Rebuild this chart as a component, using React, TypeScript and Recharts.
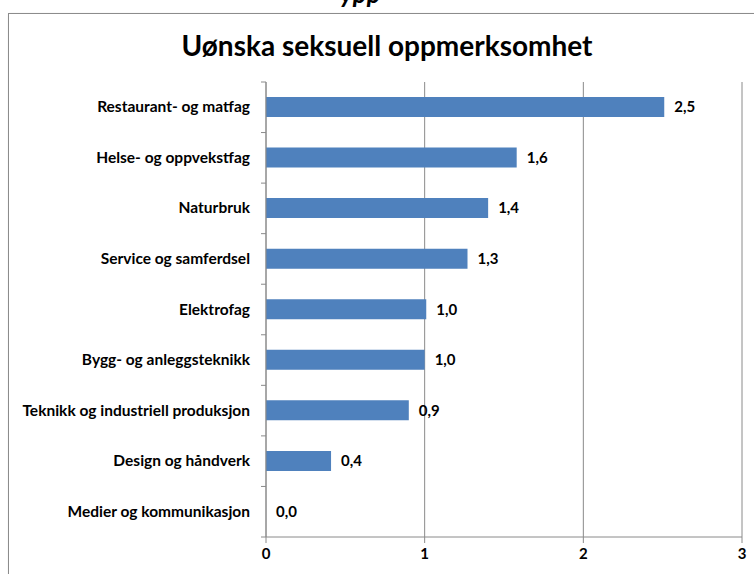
import React from "react";
import { BarChart, Bar, XAxis, YAxis, CartesianGrid, LabelList } from "recharts";

const categories = [
  "Restaurant- og matfag",
  "Helse- og oppvekstfag",
  "Naturbruk",
  "Service og samferdsel",
  "Elektrofag",
  "Bygg- og anleggsteknikk",
  "Teknikk og industriell produksjon",
  "Design og håndverk",
  "Medier og kommunikasjon",
];
const values = [2.51, 1.58, 1.4, 1.27, 1.01, 1.0, 0.9, 0.41, 0.0];
const xTicks = [0, 1, 2, 3];

const data = categories.map((name, i) => ({ name, value: values[i] }));

const FONT = "Lato, 'Open Sans', sans-serif";
const AXIS = "#8a8a8a";
const W = 754;
const H = 574;
const TOP = 82;
const BOTTOM = 537;
const band = (BOTTOM - TOP) / categories.length;

const fmt = (v: any) => Number(v).toFixed(1).replace(".", ",");

function CatTick(props: any) {
  const { x, y, payload, index } = props;
  return (
    <g>
      <line x1={x + 8} x2={x + 3} y1={y - band / 2} y2={y - band / 2} stroke={AXIS} />
      {index === categories.length - 1 && (
        <line x1={x + 8} x2={x + 3} y1={y + band / 2} y2={y + band / 2} stroke={AXIS} />
      )}
      <text x={x - 8} y={y} dy={5} textAnchor="end" fontFamily={FONT} fontWeight={700} fontSize={15.5} fill="#000">
        {payload.value}
      </text>
    </g>
  );
}

export default function App() {
  return (
    <div style={{ position: "absolute", left: 0, top: 0, width: W, height: H, overflow: "hidden", background: "#fff" }}>
      <div
        style={{
          position: "absolute",
          left: 340,
          top: -22,
          fontFamily: FONT,
          fontWeight: 700,
          fontStyle: "italic",
          fontSize: 26,
          lineHeight: "30px",
          color: "#000",
        }}
      >
        ypp
      </div>
      <div
        style={{
          position: "absolute",
          left: 8,
          top: 13,
          width: 780,
          height: 600,
          border: "1px solid #8c8c8c",
          boxShadow: "1px 1px 2px #bbb",
        }}
      />
      <div
        style={{
          position: "absolute",
          left: 0,
          top: 28,
          width: 774,
          textAlign: "center",
          fontFamily: FONT,
          fontWeight: 700,
          fontSize: 28,
          color: "#000",
        }}
      >
        Uønska seksuell oppmerksomhet
      </div>
      <div style={{ position: "absolute", left: 0, top: 0 }}>
        <BarChart
          width={W}
          height={H}
          data={data}
          layout="vertical"
          margin={{ top: TOP, right: 12, bottom: H - BOTTOM - 30, left: 8 }}
          barCategoryGap={0}
        >
          <CartesianGrid horizontal={false} stroke={AXIS} />
          <XAxis
            type="number"
            domain={[0, 3]}
            ticks={xTicks}
            height={30}
            axisLine={{ stroke: AXIS }}
            tickLine={{ stroke: AXIS }}
            tickSize={6}
            tick={{ fontFamily: FONT, fontWeight: 700, fontSize: 15, fill: "#000" }}
            tickMargin={5}
          />
          <YAxis
            type="category"
            dataKey="name"
            width={258}
            axisLine={{ stroke: AXIS }}
            tickLine={false}
            tick={<CatTick />}
            interval={0}
          />
          <Bar dataKey="value" fill="#4f81bd" barSize={20} minPointSize={0.01} isAnimationActive={false}>
            <LabelList
              dataKey="value"
              position="right"
              offset={10}
              formatter={fmt}
              style={{ fontFamily: FONT, fontWeight: 700, fontSize: 15, fill: "#000" }}
            />
          </Bar>
        </BarChart>
      </div>
    </div>
  );
}
